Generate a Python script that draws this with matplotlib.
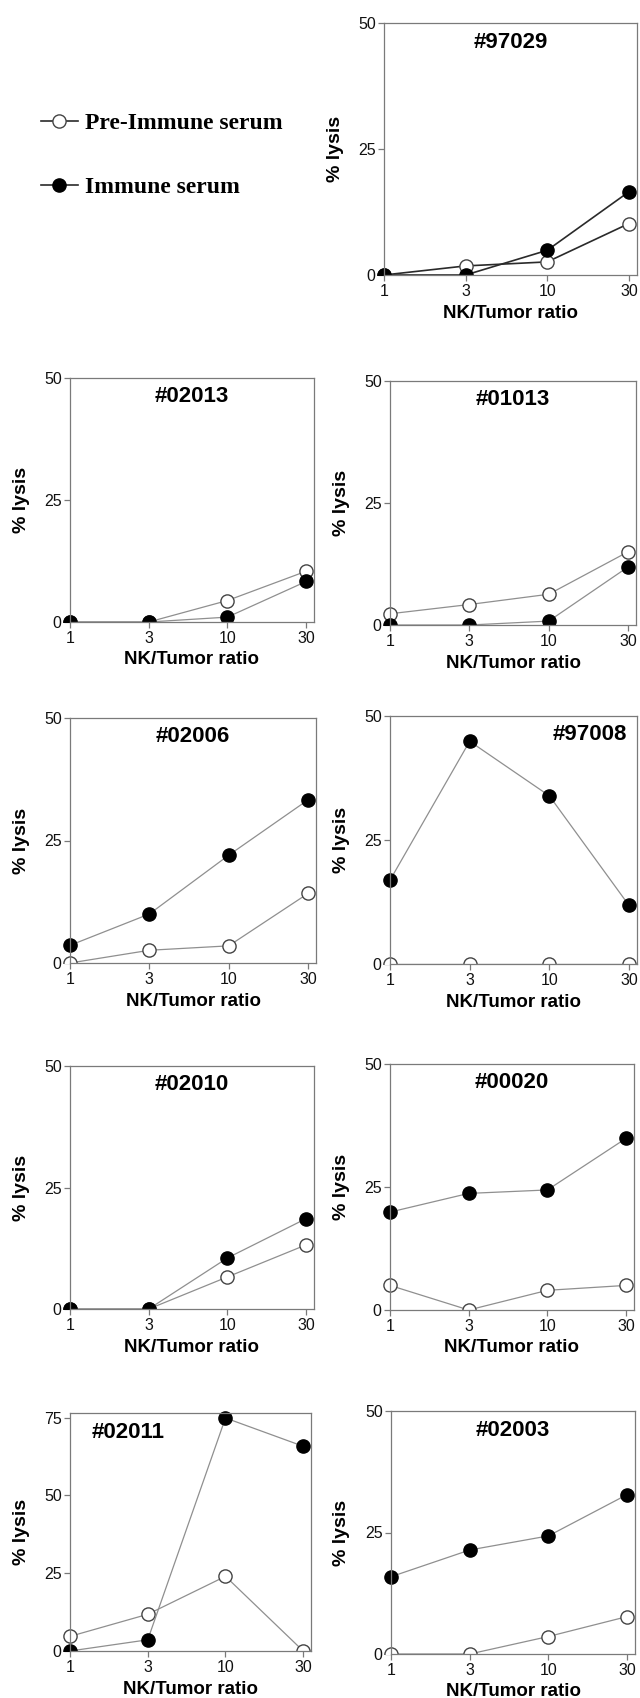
import matplotlib
matplotlib.use("Agg")
import matplotlib.pyplot as plt
from matplotlib.patches import Rectangle

# ---------------- data ----------------
ratios = ["1", "3", "10", "30"]
panel_ids = ["#97029", "#02013", "#01013", "#02006", "#97008",
             "#02010", "#00020", "#02011", "#02003"]
pre_immune = [
    [0, 1.8, 2.6, 10.2],
    [0, 0, 4.4, 10.4],
    [2.3, 4.2, 6.3, 15.0],
    [0, 2.6, 3.5, 14.2],
    [0, 0, 0, 0],
    [0, 0, 6.6, 13.2],
    [5.0, 0, 4.0, 5.0],
    [4.7, 11.8, 24.0, 0],
    [0, 0, 3.6, 7.7],
]
immune = [
    [0, 0, 4.9, 16.5],
    [0, 0, 1.0, 8.3],
    [0, 0, 0.8, 11.9],
    [3.6, 10.0, 22.0, 33.3],
    [16.9, 44.9, 33.9, 11.8],
    [0, 0, 10.5, 18.6],
    [19.9, 23.7, 24.4, 34.9],
    [0, 3.6, 74.9, 65.8],
    [15.9, 21.4, 24.3, 32.8],
]
y_ticks = [[0, 25, 50]] * 7 + [[0, 25, 50, 75], [0, 25, 50]]
series_labels = ["Pre-Immune serum", "Immune serum"]

# ---------------- layout (pixels: left, right, top, bottom) ----------------
W, H = 640, 1698
boxes = [
    (384, 637, 23, 275),
    (70, 314, 378, 622),
    (390, 636, 381, 625),
    (70, 316, 718, 963),
    (390, 637, 716, 964),
    (70, 314, 1066, 1309),
    (390, 634, 1064, 1310),
    (70, 311, 1413, 1651),
    (391, 635, 1411, 1654),
]
ylims = [50] * 7 + [76.5, 50]
title_x = [0.5, 0.5, 0.5, 0.5, 0.81, 0.5, 0.5, 0.24, 0.5]

plt.rcParams['font.family'] = ['Liberation Sans', 'DejaVu Sans']

fig = plt.figure(figsize=(W / 100, H / 100), dpi=100)

spine_col = "#7a7a7a"
line_col = "#8f8f8f"
legend_handles = None

for i in range(len(panel_ids)):
    l, r, t, b = boxes[i]
    ax = fig.add_axes([l / W, 1 - b / H, (r - l) / W, (b - t) / H])
    xs = list(range(len(ratios)))
    lc = "#2a2a2a" if i == 0 else line_col
    lw = 1.2 if i == 0 else 0.9
    clip = Rectangle((-0.3, 0), 1.6, 1.3, transform=ax.transAxes)
    h1, = ax.plot(xs, pre_immune[i], color=lc, lw=lw, marker='o', ms=9.5,
                  mfc='white', mec='#444444', mew=1.0, label=series_labels[0])
    h2, = ax.plot(xs, immune[i], color=lc, lw=lw, marker='o', ms=9.5,
                  mfc='black', mec='black', mew=1.0, label=series_labels[1])
    for h in (h1, h2):
        h.set_clip_path(clip)
    if i == 0:
        legend_handles = [h1, h2]
    ax.set_xlim(0, 3.1)
    ax.set_ylim(0, ylims[i])
    ax.set_xticks(xs)
    ax.set_xticklabels(ratios)
    ax.set_yticks(y_ticks[i])
    for s in ax.spines.values():
        s.set_color(spine_col)
        s.set_linewidth(0.9)
    ax.tick_params(axis='both', direction='out', length=4.5, width=0.9,
                   color=spine_col, labelsize=11.5, labelcolor='#111111')
    ax.tick_params(axis='y', pad=1.5)
    ax.tick_params(axis='x', pad=2.0)
    w_px = r - l
    h_px = b - t
    ax.set_xlabel("NK/Tumor ratio", fontsize=13.5, fontweight='bold', va='center')
    ax.xaxis.set_label_coords(0.5, -38 / h_px)
    ax.set_ylabel("% lysis", fontsize=14, fontweight='bold', va='center')
    ax.yaxis.set_label_coords(-49 / w_px, 0.5)
    ax.text(title_x[i], 1 - 19 / h_px, panel_ids[i], transform=ax.transAxes,
            ha='center', va='center', fontsize=16, fontweight='bold')

fig.legend(handles=legend_handles, labels=series_labels,
           loc='center left', bbox_to_anchor=(41 / W, 1 - 155.5 / H),
           frameon=False, borderpad=0, borderaxespad=0,
           handlelength=1.55, handletextpad=0.3, labelspacing=1.8,
           prop={'family': ['Liberation Serif', 'DejaVu Serif'],
                 'weight': 'bold', 'size': 17})

fig.savefig("out.png", dpi=100)
